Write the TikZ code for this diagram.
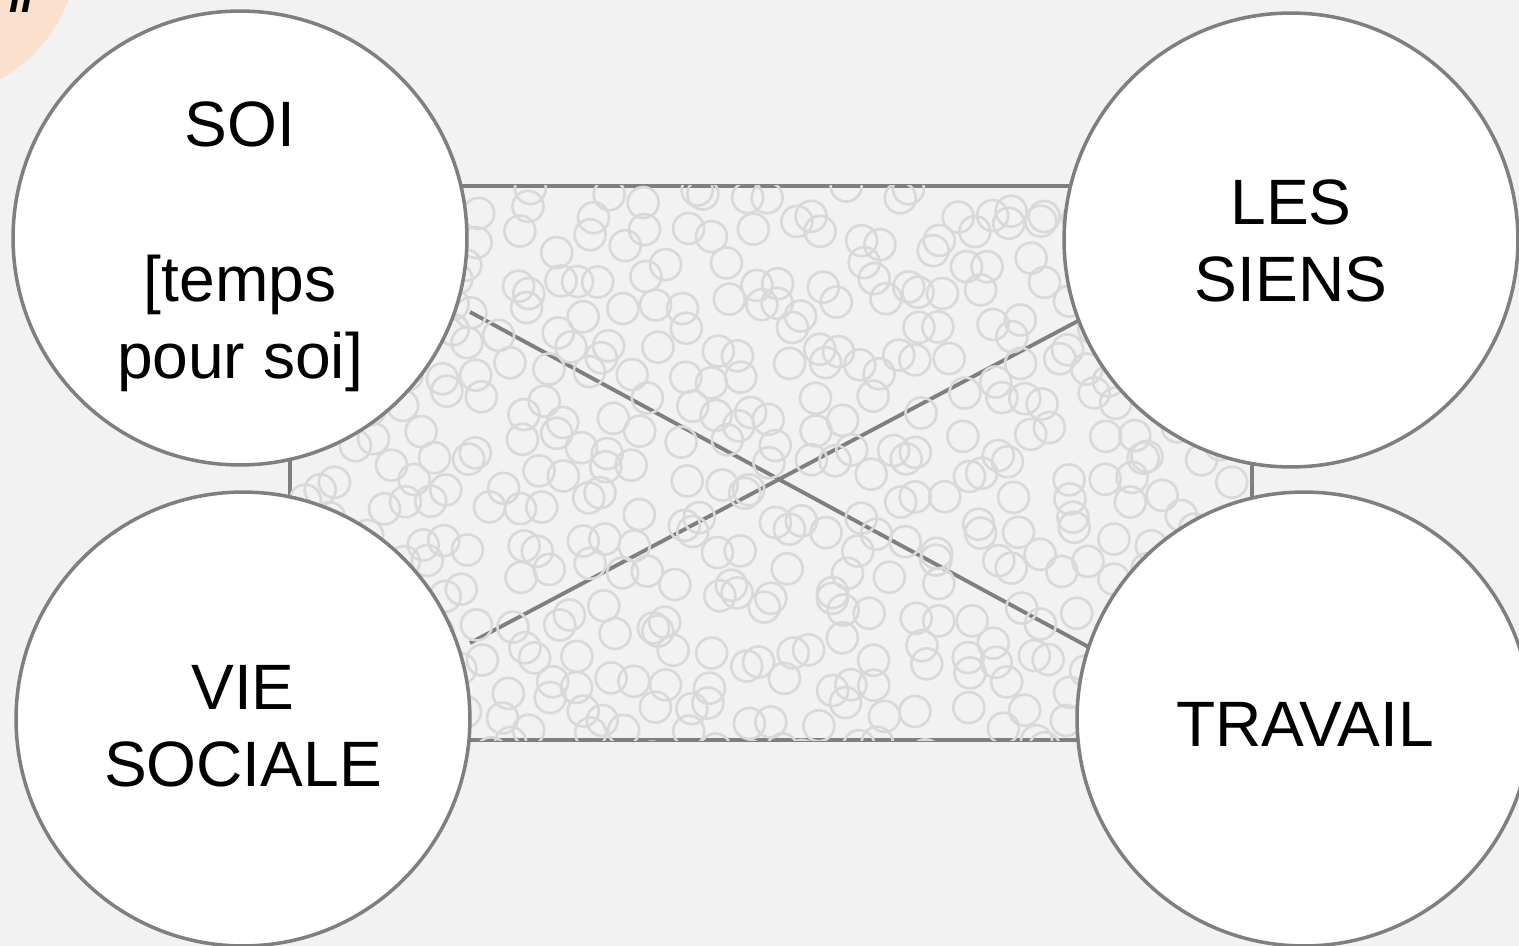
\documentclass[tikz,border=0pt]{standalone}
\usepackage{fontspec}
\setmainfont{Liberation Sans}
\usetikzlibrary{positioning}
\definecolor{bggray}{HTML}{F2F2F2}
\definecolor{edgegray}{HTML}{7F7F7F}
\definecolor{dotgray}{HTML}{D9D9D9}
\definecolor{peach}{HTML}{FCE0CE}
\tikzstyle{pole} = [circle,draw=edgegray,line width=2pt,fill=white,minimum size=9.08cm,inner sep=0pt]
\tikzstyle{polelabel} = [align=center,inner sep=0pt,font=\fontsize{36.5}{44}\selectfont]
\tikzstyle{bubble} = [draw=dotgray,line width=1.5pt]
\tikzstyle{cross} = [draw=edgegray,line width=2.2pt]

\begin{document}
\begin{tikzpicture}[x=0.02cm,y=-0.02cm]
		% page and background
		\useasboundingbox[fill=bggray] (0,0) rectangle (1519,946);
		\fill[peach] (-70,-50) circle (2.94cm);
		\node[anchor=base,font=\fontsize{24}{28}\selectfont\bfseries\itshape] (mark) at (21,13) {ll};

		% the frame
		\draw[edgegray,line width=2pt,fill=bggray] (290,186) rectangle (1252,740);

		% the cross
		\coordinate (x1) at (470,312);
		\coordinate (x2) at (1120,664);
		\coordinate (y1) at (470,643);
		\coordinate (y2) at (1110,304);
		\draw[cross] (x1) -- (x2);
		\draw[cross] (y1) -- (y2);

		% texture of small circles, on a shaken grid
		\begin{scope}
		\clip (290,186) rectangle (1252,740);
		\pgfmathsetseed{4213}
		\foreach \gx in {0,...,28}{
			\foreach \gy in {0,...,16}{
				\pgfmathsetmacro\px{290+34*(\gx+0.5)+34*(rnd-0.5)}
				\pgfmathsetmacro\py{186+34*(\gy+0.5)+34*(rnd-0.5)}
				\draw[bubble] (\px,\py) circle (0.31cm);
			}
		}
		\end{scope}

		% the four poles
		\node[pole] (soi) at (240,238) {};
		\node[pole] (siens) at (1291,240) {};
		\node[pole] (social) at (243,719) {};
		\node[pole] (travail) at (1304,719) {};

		\node[polelabel] (soitext) at (240,247) {SOI\\{}\\{}[temps\\pour soi]};
		\node[polelabel] (sienstext) at (1291,241) {LES\\SIENS};
		\node[polelabel] (socialtext) at (243,726) {VIE\\SOCIALE};
		\node[polelabel] (travailtext) at (1305,724) {TRAVAIL};
\end{tikzpicture}
\end{document}
